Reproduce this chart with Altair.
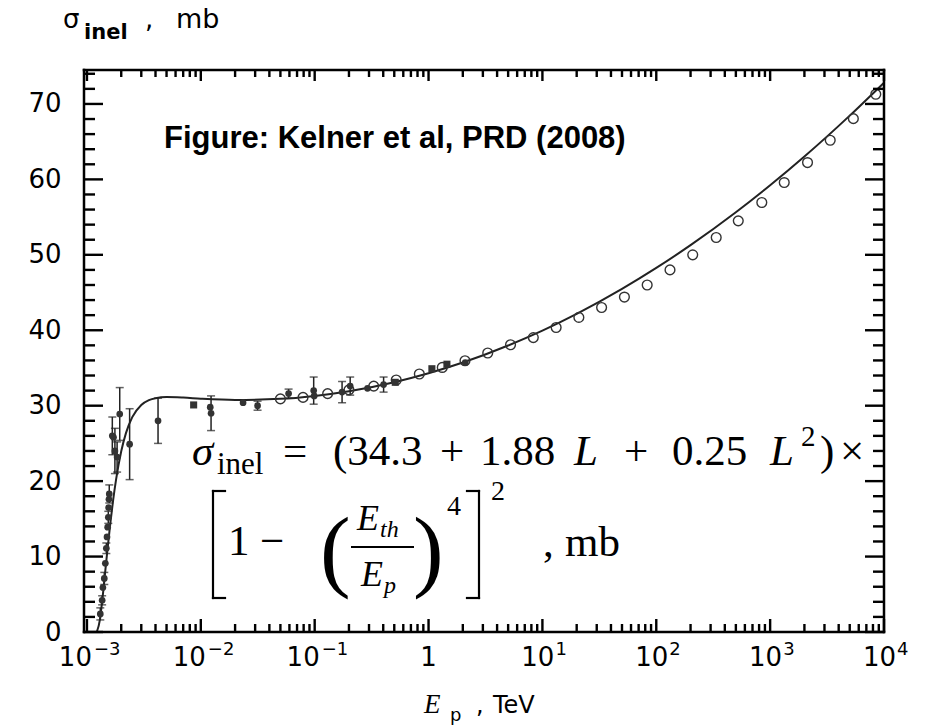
import altair as alt
import pandas as pd

# ---------------- data ----------------
# solid curve (E_p in TeV, sigma in mb)
curve_E = [1.22e-3, 1.3e-3, 1.35e-3, 1.4e-3, 1.5e-3, 1.6e-3, 1.7e-3, 1.8e-3, 2e-3, 2.2e-3,
           2.5e-3, 3e-3, 3.5e-3, 4e-3, 5e-3, 7e-3, 1e-2, 2e-2, 5e-2, 0.1, 0.2, 0.5, 1, 2, 5,
           10, 20, 50, 100, 200, 500, 1000, 2000, 5000, 10000]
curve_sigma = [0, 1.65, 3.64, 5.87, 10.33, 14.27, 17.54, 20.17, 23.96, 26.36,
               28.48, 30.10, 30.74, 31.00, 31.14, 31.07, 30.93, 30.77, 30.91, 31.30, 31.92, 33.12, 34.30, 35.72, 37.98,
               39.95, 42.17, 45.48, 48.26, 51.28, 55.64, 59.22, 63.03, 68.45, 72.82]

# filled circles (accelerator data) with error half-widths (0 = no bar)
fc_E = [1.31e-3, 1.36e-3, 1.38e-3, 1.42e-3, 1.45e-3, 1.48e-3, 1.50e-3, 1.52e-3, 1.54e-3, 1.55e-3,
        1.56e-3, 1.57e-3, 1.67e-3, 1.71e-3, 1.76e-3, 1.84e-3, 1.94e-3, 2.37e-3, 4.21e-3, 1.21e-2,
        1.23e-2, 2.35e-2, 3.15e-2, 5.9e-2, 9.8e-2, 9.9e-2, 0.174, 0.205, 0.291, 0.403, 2.1]
fc_sigma = [2.4, 4.2, 5.9, 7.1, 9.1, 11.1, 12.6, 13.9, 15.2, 16.5,
            17.6, 18.3, 26.0, 25.8, 24.0, 23.2, 28.9, 24.9, 28.0, 29.8,
            29.0, 30.4, 30.0, 31.6, 32.0, 31.3, 31.8, 32.6, 32.3, 32.8, 35.7]
fc_err = [0.8, 0.6, 0, 0.8, 0, 0.7, 0, 0, 0.8, 0,
          0, 1.2, 2.5, 0, 3.0, 2.0, 3.5, 4.7, 3.0, 0,
          2.3, 0, 0.6, 0.6, 1.8, 0, 1.4, 1.2, 0, 1.0, 0]

# filled squares
sq_E = [8.65e-3, 0.51, 1.07, 1.45]
sq_sigma = [30.1, 33.1, 34.9, 35.5]

# open circles
oc_E = [0.050, 0.079, 0.13, 0.20, 0.33, 0.52, 0.83, 1.32, 2.09, 3.31, 5.25, 8.32, 13.2, 20.9,
        33.1, 52.5, 83.2, 132, 209, 336, 525, 845, 1330, 2130, 3370, 5380, 8470]
oc_sigma = [30.9, 31.1, 31.6, 32.1, 32.6, 33.4, 34.2, 35.07, 35.96, 36.98, 38.08, 39.03, 40.37, 41.70,
            43.02, 44.4, 46.0, 48.0, 50.0, 52.29, 54.5, 56.93, 59.58, 62.23, 65.19, 68.05, 71.28]

# axis ticks and labels
x_major = [1e-3, 1e-2, 1e-1, 1, 10, 100, 1000, 10000]
x_base = ["10", "10", "10", "1", "10", "10", "10", "10"]
x_exp = ["\u22123", "\u22122", "\u22121", "", "1", "2", "3", "4"]
x_minor = [m * d for d in [1e-3, 1e-2, 1e-1, 1, 10, 100, 1000] for m in [2, 3, 4, 5, 6, 7, 8, 9]]
y_major = [0, 10, 20, 30, 40, 50, 60, 70]
y_minor = [v for v in range(2, 75, 2) if v % 10 != 0]

# ---------------- layout ----------------
W, H = 800, 562
OX, OY = 84, 70   # plot origin on the page
xs = alt.Scale(type="log", domain=[0.000942, 10000], nice=False)
ys = alt.Scale(domain=[0, 74.5], nice=False, zero=False)
INK = "#222222"

curve_df = pd.DataFrame({"E": curve_E, "s": curve_sigma})
fc_df = pd.DataFrame({"E": fc_E, "s": fc_sigma, "err": fc_err})
fc_df["lo"] = fc_df["s"] - fc_df["err"]
fc_df["hi"] = fc_df["s"] + fc_df["err"]
eb_df = fc_df[fc_df["err"] > 0]
sq_df = pd.DataFrame({"E": sq_E, "s": sq_sigma})
oc_df = pd.DataFrame({"E": oc_E, "s": oc_sigma})
xl_df = pd.DataFrame({"v": x_major, "b": x_base, "e": x_exp})

curve = alt.Chart(curve_df).mark_line(color=INK, strokeWidth=2, interpolate="monotone").encode(
    x=alt.X("E:Q", scale=xs, axis=None),
    y=alt.Y("s:Q", scale=ys, axis=alt.Axis(values=y_major, ticks=False, domain=False, grid=False,
                                           labelFont="DejaVu Sans", labelFontSize=26, labelColor="black",
                                           labelPadding=23, title=None)),
)

ebar = alt.Chart(eb_df).mark_rule(color=INK, strokeWidth=1.5).encode(
    x=alt.X("E:Q", scale=xs), y=alt.Y("lo:Q", scale=ys), y2="hi:Q")
cap_lo = alt.Chart(eb_df).mark_tick(color=INK, thickness=1.5, size=8, orient="horizontal").encode(
    x=alt.X("E:Q", scale=xs), y=alt.Y("lo:Q", scale=ys))
cap_hi = alt.Chart(eb_df).mark_tick(color=INK, thickness=1.5, size=8, orient="horizontal").encode(
    x=alt.X("E:Q", scale=xs), y=alt.Y("hi:Q", scale=ys))

fc_pts = alt.Chart(fc_df).mark_point(filled=True, shape="circle", size=45, color="#333333", opacity=1).encode(
    x=alt.X("E:Q", scale=xs), y=alt.Y("s:Q", scale=ys))
sq_pts = alt.Chart(sq_df).mark_point(filled=True, shape="square", size=50, color="#333333", opacity=1).encode(
    x=alt.X("E:Q", scale=xs), y=alt.Y("s:Q", scale=ys))
oc_pts = alt.Chart(oc_df).mark_point(filled=False, shape="circle", size=95, color="#333333",
                                     strokeWidth=1.4, opacity=1).encode(
    x=alt.X("E:Q", scale=xs), y=alt.Y("s:Q", scale=ys))

# inward ticks on all four sides
xmaj_df = pd.DataFrame({"v": x_major})
xmin_df = pd.DataFrame({"v": x_minor})
ymaj_df = pd.DataFrame({"v": y_major})
ymin_df = pd.DataFrame({"v": y_minor})


def xticks(df, y0, y1):
    return alt.Chart(df).mark_rule(color="black", strokeWidth=2.4, strokeCap="butt").encode(
        x=alt.X("v:Q", scale=xs), y=alt.value(y0), y2=alt.value(y1))


def yticks(df, x0, x1):
    return alt.Chart(df).mark_rule(color="black", strokeWidth=2.4, strokeCap="butt").encode(
        y=alt.Y("v:Q", scale=ys), x=alt.value(x0), x2=alt.value(x1))


ticks = [
    xticks(xmaj_df, H, H - 13), xticks(xmin_df, H, H - 8),
    xticks(xmaj_df, 0, 11), xticks(xmin_df, 0, 7),
    yticks(ymaj_df, 0, 19), yticks(ymin_df, 0, 11),
    yticks(ymaj_df, W - 19, W), yticks(ymin_df, W - 11, W),
]

# x tick labels: "10" with a raised exponent, whole label centred on its tick
lab_font = dict(font="DejaVu Sans", color="black", baseline="alphabetic")
neg = "indexof(datum.e, '\u2212') >= 0"
pos = "datum.e != '' && indexof(datum.e, '\u2212') < 0"
xlab = [
    alt.Chart(xl_df).transform_filter(neg).mark_text(fontSize=26, align="right", dx=5, **lab_font).encode(
        x=alt.X("v:Q", scale=xs), y=alt.value(H + 34), text="b:N"),
    alt.Chart(xl_df).transform_filter(neg).mark_text(fontSize=18, align="left", dx=7, **lab_font).encode(
        x=alt.X("v:Q", scale=xs), y=alt.value(H + 23), text="e:N"),
    alt.Chart(xl_df).transform_filter(pos).mark_text(fontSize=26, align="right", dx=12, **lab_font).encode(
        x=alt.X("v:Q", scale=xs), y=alt.value(H + 34), text="b:N"),
    alt.Chart(xl_df).transform_filter(pos).mark_text(fontSize=18, align="left", dx=13, **lab_font).encode(
        x=alt.X("v:Q", scale=xs), y=alt.value(H + 23), text="e:N"),
    alt.Chart(xl_df).transform_filter("datum.e == ''").mark_text(fontSize=26, align="center", **lab_font).encode(
        x=alt.X("v:Q", scale=xs), y=alt.value(H + 34), text="b:N"),
]


def txt(s, x, y, size, font="Liberation Serif", style="normal", weight="normal", align="left"):
    return alt.Chart(pd.DataFrame({"t": [s]})).mark_text(
        align=align, baseline="alphabetic", font=font, fontSize=size, fontStyle=style,
        fontWeight=weight, color="black").encode(x=alt.value(x - OX), y=alt.value(y - OY), text="t:N")


def seg(x1, y1, x2, y2, w=2.2):
    return alt.Chart(pd.DataFrame({"k": [0]})).mark_rule(color="black", strokeWidth=w, strokeCap="square").encode(
        x=alt.value(x1 - OX), y=alt.value(y1 - OY), x2=alt.value(x2 - OX), y2=alt.value(y2 - OY))


frame = [seg(OX, OY, OX + W, OY, 2.5), seg(OX, OY + H, OX + W, OY + H, 2.5),
         seg(OX, OY, OX, OY + H, 2.5), seg(OX + W, OY, OX + W, OY + H, 2.5)]

notes = [
    # axis titles
    txt("\u03c3", 63, 28, 26, font="DejaVu Sans"),
    txt("inel", 84, 39, 21, font="DejaVu Sans", weight="bold"),
    txt(",", 145, 28, 26, font="DejaVu Sans"),
    txt("mb", 176, 28, 27, font="DejaVu Sans"),
    txt("E", 424, 713, 27, style="italic"),
    txt("p", 450, 721, 18, font="DejaVu Sans"),
    txt(",", 476, 713, 24, font="DejaVu Sans"),
    txt("TeV", 493, 713, 24, font="DejaVu Sans"),
    # source note
    txt("Figure: Kelner et al, PRD (2008)", 164, 148, 31, font="Liberation Sans", weight="bold"),
    # formula line 1
    txt("\u03c3", 192, 465, 43, style="italic"),
    txt("inel", 217, 474, 31),
    txt("=", 283, 465, 43),
    txt("(34.3", 333, 465, 43),
    txt("+", 440, 465, 43),
    txt("1.88", 480, 465, 43),
    txt("L", 574, 465, 43, style="italic"),
    txt("+", 624, 465, 43),
    txt("0.25", 672, 465, 43),
    txt("L", 770, 465, 43, style="italic"),
    txt("2", 801, 446, 29),
    txt(")", 820, 465, 43),
    txt("\u00d7", 840, 465, 43),
    # formula line 2
    seg(213, 491, 213, 598), seg(213, 491, 225, 491), seg(213, 598, 225, 598),
    txt("1", 228, 555, 43),
    txt("\u2212", 260, 555, 43),
    txt("(", 320, 580, 92),
    txt("E", 357, 530, 36, style="italic"),
    txt("th", 380, 537, 24, style="italic"),
    seg(352, 547, 413, 547, 2),
    txt("E", 361, 586, 36, style="italic"),
    txt("p", 384, 593, 24, style="italic"),
    txt(")", 413, 580, 92),
    txt("4", 447, 515, 28),
    seg(479, 491, 479, 598), seg(467, 491, 479, 491), seg(467, 598, 479, 598),
    txt("2", 491, 500, 28),
    txt(",", 543, 556, 43),
    txt("mb", 565, 556, 43),
]

chart = alt.layer(curve, ebar, cap_lo, cap_hi, oc_pts, fc_pts, sq_pts, *ticks, *frame, *xlab, *notes).properties(
    width=W, height=H,
    padding={"left": OX, "top": OY, "right": 930 - OX - W, "bottom": 727 - OY - H},
    autosize=alt.AutoSizeParams(type="none"),
).configure_view(stroke=None).configure(background="white")

chart.save("out.html", embed_options={"renderer": "svg", "actions": False})
